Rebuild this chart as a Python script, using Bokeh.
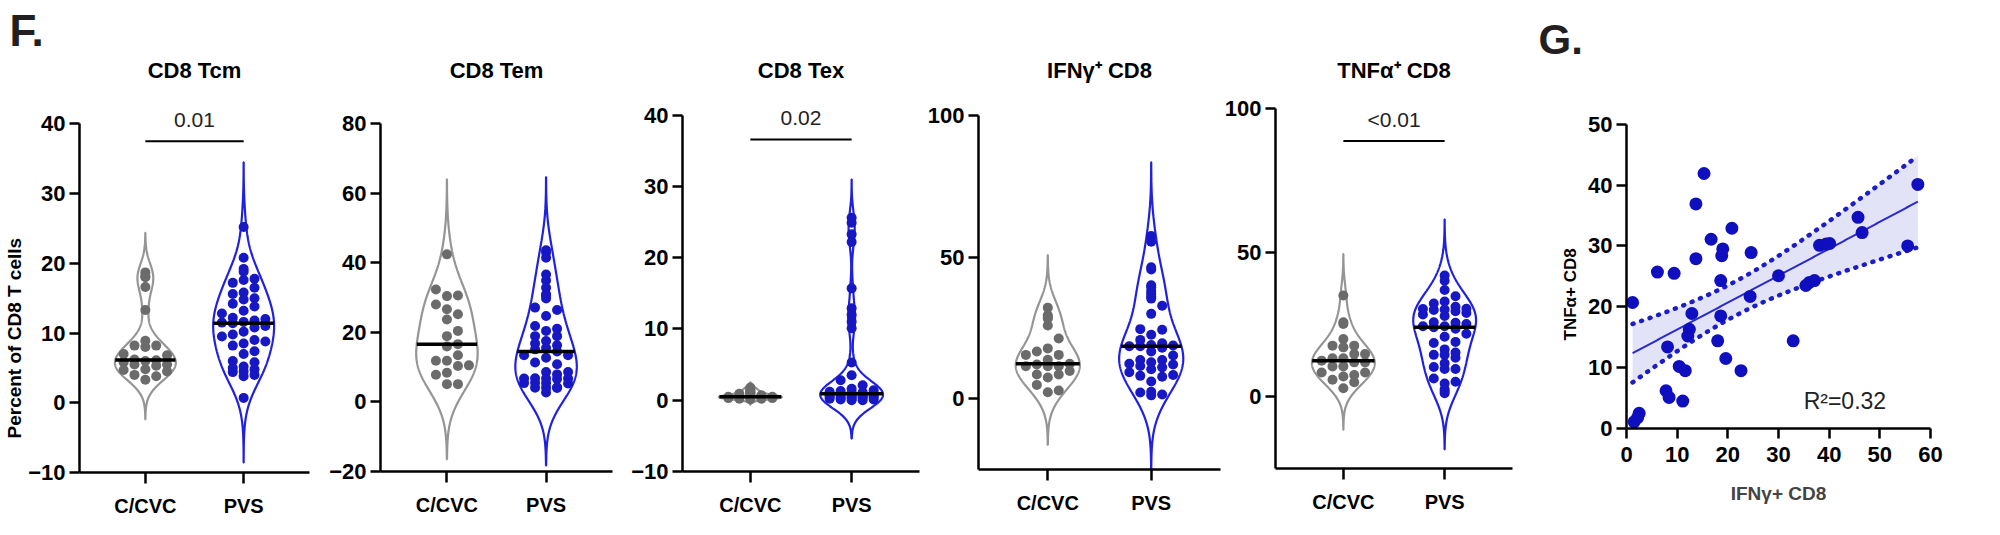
import numpy as np
from bokeh.plotting import figure
from bokeh.layouts import row
from bokeh.models import Title, FixedTicker
from bokeh.embed import file_html
from bokeh.resources import INLINE
from bokeh.core.properties import value

# ---------------- data ----------------
groups = ["C/CVC", "PVS"]
panel_titles = ["CD8 Tcm", "CD8 Tem", "CD8 Tex", "IFNγ⁺ CD8", "TNFα⁺ CD8"]
p_labels = ["0.01", None, "0.02", None, "<0.01"]
y_tick_sets = [[-10, 0, 10, 20, 30, 40], [-20, 0, 20, 40, 60, 80],
               [-10, 0, 10, 20, 30, 40], [0, 50, 100], [0, 50, 100]]
y_label = "Percent of CD8 T cells"

tcm_cvc = [18.2, 18.7, 18.0, 16.6, 13.3, 8.9, 8.2, 8.2, 8.0, 7.0, 6.8, 6.2, 6.1, 6.0,
           5.8, 5.5, 5.5, 5.3, 4.8, 4.7, 4.5, 4.0, 3.8, 3.3]
tcm_pvs = [25.2, 20.8, 19.2, 18.8, 17.8, 17.6, 17.2, 16.5, 15.8, 15.6, 15.0, 14.8, 14.2,
           13.8, 13.2, 12.8, 12.2, 12.0, 11.8, 11.6, 11.5, 11.4, 11.0, 10.8, 10.2, 9.8,
           9.5, 9.0, 8.8, 8.5, 8.2, 7.4, 7.0, 6.0, 5.8, 5.2, 5.0, 4.8, 4.5, 4.4, 4.0, 3.8, 0.7]
tem_cvc = [42.4, 32.3, 30.6, 30.4, 28.0, 26.6, 25.2, 23.7, 20.4, 18.9, 16.6, 15.9, 13.4,
           11.8, 11.8, 10.5, 10.3, 8.4, 7.8, 5.1, 5.1]
tem_pvs = [43.6, 42.9, 41.4, 36.6, 34.9, 32.8, 30.9, 30.6, 29.7, 27.1, 26.4, 24.7, 21.8,
           21.0, 20.4, 18.9, 18.9, 17.5, 16.8, 16.3, 15.5, 15.1, 14.5, 13.4, 13.4, 12.7,
           11.3, 10.8, 8.6, 8.6, 7.9, 6.7, 6.7, 6.6, 6.8, 6.7, 5.4, 5.5, 5.3, 5.4, 4.1,
           4.2, 4.0, 4.1, 2.7]
tex_cvc = [0.1, 0.2, 0.2, 0.3, 0.3, 0.3, 0.4, 0.4, 0.4, 0.5, 0.5, 0.5, 0.5, 0.6, 0.6,
           0.7, 0.8, 0.9, 1.0, 1.1, 1.2, 1.4, 1.6, 1.8]
tex_pvs = [25.6, 24.9, 23.3, 22.2, 15.7, 12.9, 12.0, 11.0, 10.1, 5.3, 3.5, 2.8, 2.1, 1.6,
           1.4, 1.3, 1.2, 1.1, 1.1, 1.0, 1.0, 0.9, 0.9, 0.9, 0.8, 0.8, 0.8, 0.7, 0.7, 0.6,
           0.6, 0.6, 0.5, 0.5, 0.4, 0.4, 0.3, 0.3, 0.2, 0.2, 0.1, 0.1, 0.0, 0.0]
ifn_cvc = [32.2, 29.5, 28.7, 28.4, 25.9, 21.3, 17.8, 16.7, 15.5, 15.5, 13.8, 12.4, 12.1,
           11.5, 11.5, 11.5, 9.8, 8.6, 8.6, 7.5, 4.9, 2.9, 2.3]
tnf_cvc = [35.0, 25.7, 25.1, 19.9, 17.6, 17.6, 17.0, 14.7, 14.7, 13.2, 13.2, 12.4, 11.8,
           11.8, 10.4, 10.4, 8.3, 8.3, 7.4, 6.9, 5.8, 4.9, 2.8]

# paired PVS values (panel G); the same values make up the PVS violins of IFNγ / TNFα
g_ifn = [15.3, 13.7, 20.8, 16.7, 19.0, 18.8, 13.7, 24.6, 6.1, 9.4, 18.6, 30.0, 1.2, 24.4,
         12.9, 18.6, 12.4, 12.1, 18.0, 32.9, 8.1, 19.6, 10.4, 11.6, 22.6, 7.8, 8.4, 11.1,
         2.5, 1.5, 57.5, 45.7, 46.5, 38.1, 39.4, 40.1, 55.5, 36.1, 37.1, 35.4, 2.2]
g_tnf = [41.9, 36.9, 32.9, 31.1, 29.5, 28.4, 27.9, 28.9, 25.7, 25.5, 24.3, 25.1, 20.7, 21.7,
         18.9, 18.5, 16.3, 15.2, 14.4, 14.4, 13.4, 11.5, 10.2, 9.5, 9.5, 6.2, 5.1, 4.5,
         2.5, 1.1, 40.1, 34.7, 32.2, 30.1, 30.3, 30.4, 30.0, 24.0, 24.3, 23.5, 1.8]
ifn_pvs = g_ifn
tnf_pvs = g_tnf
r2_label = "R²=0.32"
g_xlabel, g_ylabel = "IFNγ+ CD8", "TNFα+ CD8"
g_xticks = [0, 10, 20, 30, 40, 50, 60]
g_yticks = [0, 10, 20, 30, 40, 50]

panel_data = [(tcm_cvc, tcm_pvs), (tem_cvc, tem_pvs), (tex_cvc, tex_pvs),
              (ifn_cvc, ifn_pvs), (tnf_cvc, tnf_pvs)]

# ---------------- style / layout ----------------
FONT = "Liberation Sans"
GRAY_DOT, GRAY_LINE = "#6b6b6b", "#959595"
BLUE_DOT, BLUE_LINE = "#1717c4", "#2020e0"
FIG_H = 519
PAGE_TOP = 8
XR = (0.33, 2.67)
VW = 0.31               # max half width of violin (x units)

specs = [
    dict(left=76, fw=233, right=10, top=64, ax_top=131.7, bot=482, ymin=-10, ymax=40, bar=37.5, bw=(1.9, 3.1)),
    dict(left=61, fw=232, right=10, top=55, ax_top=131.0, bot=479, ymin=-20, ymax=80, bar=None, bw=(7.2, 7.0)),
    dict(left=60, fw=237, right=5, top=55, ax_top=122.7, bot=479, ymin=-10, ymax=40, bar=36.6, bw=(0.25, 1.8)),
    dict(left=53, fw=243, right=1, top=55, ax_top=123.3, bot=477, ymin=-25, ymax=100, bar=None, bw=(6.2, 8.7)),
    dict(left=51, fw=240, right=10, top=55, ax_top=115.5, bot=476, ymin=-25, ymax=100, bar=88.6, bw=(4.8, 6.5)),
]


def kde_curve(vals, bw):
    v = np.asarray(vals, float)
    g = np.linspace(v.min() - 3 * bw, v.max() + 3 * bw, 500)
    d = np.exp(-0.5 * ((g[:, None] - v[None, :]) / bw) ** 2).sum(axis=1)
    return g, d / d.max()


def swarm(vals, center, ppu, ppx, grid, hw, dot=10.0, step=11.0):
    v = np.asarray(vals, float)
    order = np.argsort(v)
    placed = []
    xs = np.zeros(len(v))
    for i in order:
        ypx = v[i] * ppu
        maxoff = max(np.interp(v[i], grid, hw) * ppx - dot / 2.0, 0.0)
        kmax = int(maxoff // step)
        cands = [0.0]
        for k in range(1, kmax + 1):
            cands += [k * step, -k * step]
        best, bestd = 0.0, -1.0
        for c in cands:
            dmin = min([np.hypot(c - px, ypx - py) for px, py in placed] or [1e9])
            if dmin >= dot:
                best = c
                break
            if dmin > bestd:
                bestd, best = dmin, c
        placed.append((best, ypx))
        xs[i] = center + best / ppx
    return xs


def style_axes(p, ytick_font="22px"):
    for ax in (p.xaxis, p.yaxis):
        ax.axis_line_width = 2.5
        ax.axis_line_color = "black"
        ax.major_tick_line_width = 2.5
        ax.major_tick_line_color = "black"
        ax.major_tick_in = 0
        ax.minor_tick_line_color = None
        ax.major_label_text_font = FONT
        ax.major_label_text_font_style = "bold"
        ax.major_label_text_color = "black"
    p.yaxis.major_tick_out = 10
    p.yaxis.major_label_text_font_size = ytick_font
    p.yaxis.major_label_standoff = 4
    p.xgrid.visible = False
    p.ygrid.visible = False
    p.outline_line_color = None
    p.frame_align = False


def panel_letter(p, text, offset, size):
    p.title.text = text
    p.title.align = "left"
    p.title.offset = offset
    p.title.vertical_align = "top"
    p.title.standoff = 0
    p.title.text_font = FONT
    p.title.text_font_style = "bold"
    p.title.text_font_size = size
    p.title.text_color = "#231f20"


figs = []
for i, s in enumerate(specs):
    ppu = (s["bot"] - s["ax_top"]) / (s["ymax"] - s["ymin"])
    ppx = s["fw"] / (XR[1] - XR[0])
    ytop = s["ymax"] + (s["ax_top"] - s["top"]) / ppu
    p = figure(width=s["left"] + s["fw"] + s["right"], height=FIG_H,
               x_range=XR, y_range=(s["ymin"], ytop),
               output_backend="svg", toolbar_location=None,
               min_border_left=s["left"], min_border_right=s["right"],
               min_border_top=s["top"] - PAGE_TOP,
               min_border_bottom=PAGE_TOP + FIG_H - s["bot"])
    style_axes(p)
    p.yaxis.bounds = (s["ymin"], s["ymax"])
    p.yaxis.ticker = FixedTicker(ticks=y_tick_sets[i])
    p.xaxis.ticker = FixedTicker(ticks=[1, 2])
    p.xaxis.major_label_overrides = {1: groups[0], 2: groups[1]}
    p.xaxis.major_tick_out = 11
    p.xaxis.major_label_text_font_size = "20px"
    p.xaxis.major_label_standoff = 11

    for j, vals in enumerate(panel_data[i]):
        c = j + 1
        grid, dens = kde_curve(vals, s["bw"][j])
        hw = VW * dens
        line_col = GRAY_LINE if j == 0 else BLUE_LINE
        dot_col = GRAY_DOT if j == 0 else BLUE_DOT
        p.patch(np.concatenate([c - hw, (c + hw)[::-1]]),
                np.concatenate([grid, grid[::-1]]),
                fill_alpha=0, line_color=line_col, line_width=2.2)
        xs = swarm(vals, c, ppu, ppx, grid, hw)
        p.scatter(xs, vals, size=10, fill_color=dot_col, line_color=None)
        med = float(np.median(vals))
        wm = float(np.interp(med, grid, hw))
        p.segment(x0=[c - wm], y0=[med], x1=[c + wm], y1=[med],
                  line_color="black", line_width=3.5)

    title_y = ytop - (78 - s["top"]) / ppu
    p.text(x=[1.5], y=[title_y], text=[panel_titles[i]], text_font=value(FONT),
           text_font_style="bold", text_font_size="22px", text_align="center",
           text_baseline="middle", text_color="black")
    if p_labels[i] is not None:
        p.segment(x0=[1], y0=[s["bar"]], x1=[2], y1=[s["bar"]], line_color="black", line_width=2)
        p.text(x=[1.5], y=[s["bar"] + 21 / ppu], text=[p_labels[i]], text_font=value(FONT),
               text_font_size="21px", text_align="center", text_baseline="middle",
               text_color="#222222")
    if i == 0:
        frame_left = PAGE_TOP + s["left"]
        panel_letter(p, "F.", 14 - frame_left, "44px")
        p.add_layout(Title(text=y_label, align="left", offset=s["bot"] - 448, standoff=2,
                           vertical_align="bottom", text_font=FONT, text_font_style="bold",
                           text_font_size="19px", text_color="black"), "left")
    figs.append(p)

# ---------------- panel G ----------------
g_left, g_fw, g_right, g_top, g_axtop, g_bot = 104, 304, 52, 72, 131.7, 436
g_frame_left = 1530 + g_left
g_ppu = (g_bot - g_axtop) / 50.0
g_ytop = 50 + (g_axtop - g_top) / g_ppu
g = figure(width=g_left + g_fw + g_right, height=FIG_H, x_range=(0, 60), y_range=(0, g_ytop),
           output_backend="svg", toolbar_location=None,
           min_border_left=g_left, min_border_right=g_right,
           min_border_top=g_top - PAGE_TOP, min_border_bottom=PAGE_TOP + FIG_H - g_bot)
style_axes(g, ytick_font="22px")
g.yaxis.bounds = (0, 50)
g.yaxis.ticker = FixedTicker(ticks=g_yticks)
g.xaxis.ticker = FixedTicker(ticks=g_xticks)
g.xaxis.major_tick_out = 10
g.xaxis.major_label_text_font_size = "22px"
g.xaxis.major_label_standoff = 8
g.yaxis.major_label_standoff = 4
g.xaxis.axis_label = g_xlabel
g.xaxis.axis_label_text_font = FONT
g.xaxis.axis_label_text_font_style = "bold"
g.xaxis.axis_label_text_font_size = "19px"
g.xaxis.axis_label_standoff = 18
g.add_layout(Title(text=g_ylabel, align="left", offset=g_bot - 348, standoff=12,
                   vertical_align="bottom", text_font=FONT, text_font_style="bold",
                   text_font_size="17px", text_color="black"), "left")
panel_letter(g, "G.", 1546 - g_frame_left, "42px")

gx = np.asarray(g_ifn, float)
gy = np.asarray(g_tnf, float)
slope, icpt = np.polyfit(gx, gy, 1)
n = len(gx)
resid = gy - (slope * gx + icpt)
s_err = np.sqrt((resid ** 2).sum() / (n - 2))
sxx = ((gx - gx.mean()) ** 2).sum()
xg = np.linspace(gx.min(), gx.max(), 200)
fit = slope * xg + icpt
half = 2.02 * s_err * np.sqrt(1.0 / n + (xg - gx.mean()) ** 2 / sxx)
g.varea(x=xg, y1=fit - half, y2=fit + half, fill_color="#e3e3f7")
g.line(xg, fit - half, line_color="#1c1cc8", line_width=4.5, line_dash="1 8", line_cap="round")
g.line(xg, fit + half, line_color="#1c1cc8", line_width=4.5, line_dash="1 8", line_cap="round")
g.line(xg, fit, line_color="#2a2ad0", line_width=2)
g.scatter(gx, gy, size=13, fill_color="#0f0fbf", line_color=None)
g.text(x=[43.1], y=[4.6], text=[r2_label], text_font=value(FONT), text_font_size="23px",
       text_align="center", text_baseline="middle", text_color="#222222")
figs.append(g)

layout = row(*figs, spacing=0)
open("out.html", "w").write(file_html(layout, INLINE))
